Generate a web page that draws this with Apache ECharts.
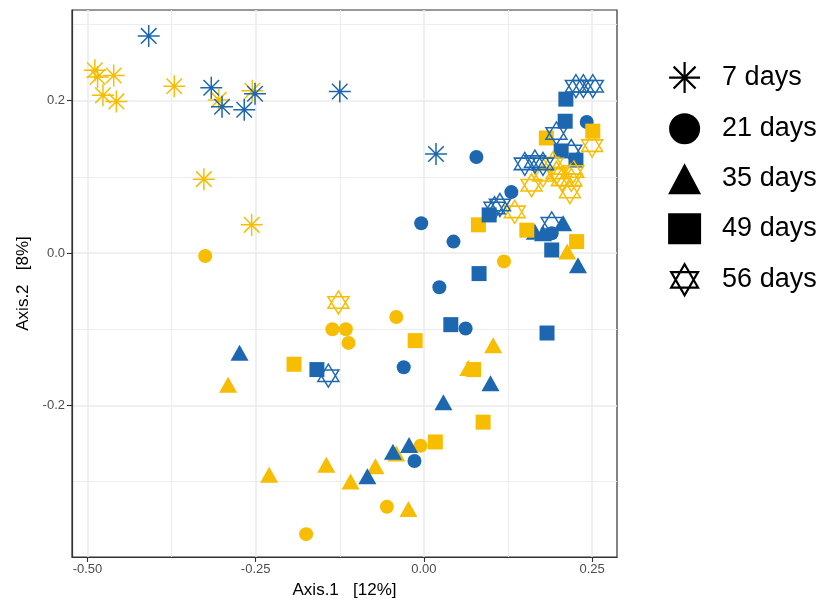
<!DOCTYPE html>
<html>
<head>
<meta charset="utf-8">
<script src="https://cdn.jsdelivr.net/npm/echarts@6/dist/echarts.min.js"></script>
<style>
html, body { margin: 0; padding: 0; background: #fff; }
#chart { width: 824px; height: 604px; }
</style>
</head>
<body>
<div id="chart"></div>
<script>
// day groups (legend)
var dayLabels = ['7 days', '21 days', '35 days', '49 days', '56 days'];
var xTicks = [-0.5, -0.25, 0, 0.25];
var xMinor = [-0.375, -0.125, 0.125];
var yTicks = [-0.2, 0, 0.2];
var yMinor = [-0.3, -0.1, 0.1, 0.3];

// 7 days
var blue7 = [[-0.409, 0.285], [-0.316, 0.217], [-0.300, 0.192], [-0.267, 0.188], [-0.251, 0.209], [-0.125, 0.212], [0.018, 0.130]];
var yellow7 = [[-0.489, 0.240], [-0.485, 0.231], [-0.461, 0.233], [-0.477, 0.207], [-0.457, 0.199], [-0.371, 0.219], [-0.305, 0.201], [-0.255, 0.213], [-0.327, 0.097], [-0.256, 0.037]];
// 21 days
var blue21 = [[0.078, 0.126], [0.130, 0.080], [-0.004, 0.039], [0.044, 0.015], [0.023, -0.045], [0.062, -0.099], [-0.030, -0.150], [-0.014, -0.273], [0.190, 0.026], [0.242, 0.172]];
var yellow21 = [[-0.325, -0.004], [0.119, -0.011], [-0.041, -0.084], [-0.136, -0.100], [-0.116, -0.100], [-0.112, -0.118], [-0.005, -0.253], [-0.055, -0.333], [-0.175, -0.369]];
// 35 days
var blue35 = [[0.165, 0.028], [0.177, 0.026], [0.207, 0.039], [0.229, -0.016], [-0.274, -0.131], [0.099, -0.171], [0.029, -0.196], [-0.022, -0.252], [-0.046, -0.261], [-0.084, -0.293]];
var yellow35 = [[0.213, 0.002], [0.103, -0.121], [0.066, -0.151], [-0.291, -0.173], [-0.041, -0.263], [-0.072, -0.280], [-0.145, -0.278], [-0.109, -0.300], [-0.230, -0.291], [-0.023, -0.336]];
// 49 days
var blue49 = [[0.211, 0.202], [0.210, 0.173], [0.204, 0.134], [0.226, 0.122], [0.097, 0.050], [0.190, 0.004], [0.082, -0.027], [0.040, -0.094], [-0.159, -0.153], [0.183, -0.105]];
var yellow49 = [[0.251, 0.160], [0.182, 0.151], [0.081, 0.037], [0.153, 0.030], [0.227, 0.015], [-0.013, -0.115], [-0.193, -0.146], [0.074, -0.153], [0.088, -0.222], [0.017, -0.248]];
// 56 days
var blue56 = [[0.226, 0.219], [0.237, 0.219], [0.251, 0.219], [0.197, 0.157], [0.219, 0.134], [0.150, 0.117], [0.165, 0.120], [0.177, 0.117], [0.105, 0.059], [0.113, 0.063], [0.190, 0.039], [-0.142, -0.161]];
var yellow56 = [[0.250, 0.141], [0.192, 0.118], [0.160, 0.089], [0.177, 0.102], [0.197, 0.105], [0.205, 0.096], [0.219, 0.096], [0.217, 0.080], [0.222, 0.107], [0.135, 0.054], [-0.127, -0.065]];

var BLUE = '#1d67b0';
var YELLOW = '#f7bd00';
var asterisk = 'path://M0,-10L0,10M-10,0L10,0M-7.07,-7.07L7.07,7.07M-7.07,7.07L7.07,-7.07';
var david = 'path://M0,-10L8.66,5L-8.66,5ZM0,10L8.66,-5L-8.66,-5Z';

var shapes = [
    { sym: asterisk, size: [22, 22], line: true },
    { sym: 'circle', size: 14, line: false },
    { sym: 'triangle', size: [18, 16], line: false },
    { sym: 'rect', size: 15, line: false },
    { sym: david, size: [21, 23], line: true }
];
var blueSets = [blue7, blue21, blue35, blue49, blue56];
var yellowSets = [yellow7, yellow21, yellow35, yellow49, yellow56];

function mkSeries(i, data, col) {
    var s = shapes[i];
    return {
        type: 'scatter',
        name: dayLabels[i],
        data: data,
        symbol: s.sym,
        symbolSize: s.size,
        itemStyle: s.line ?
            { color: 'rgba(0,0,0,0)', borderColor: col, borderWidth: 1.5, opacity: 1 } :
            { color: col, borderWidth: 0, opacity: 1 },
        emphasis: { disabled: true },
        animation: false
    };
}

var series = [];
for (var i = 0; i < 5; i++) {
    series.push(mkSeries(i, yellowSets[i], YELLOW));
    series.push(mkSeries(i, blueSets[i], BLUE));
}

var legendData = dayLabels.map(function(n, i) {
    var s = shapes[i];
    return {
        name: n,
        icon: s.sym,
        itemStyle: s.line ?
            { color: 'rgba(0,0,0,0)', borderColor: '#000', borderWidth: 2.2 } :
            { color: '#000', borderWidth: 0 }
    };
});

var XMIN = -0.523, XMAX = 0.287, YMIN = -0.399, YMAX = 0.319;
var grid = { left: 72, right: 207, top: 10, bottom: 47 };

var chart = echarts.init(document.getElementById('chart'), null, { renderer: 'canvas' });
var option = {
    backgroundColor: '#fff',
    animation: false,
    textStyle: { fontFamily: 'Liberation Sans' },
    grid: Object.assign({ show: true, borderColor: '#333', borderWidth: 1.2, backgroundColor: '#fff' }, grid),
    legend: {
        orient: 'vertical',
        left: 663,
        top: 56,
        itemWidth: 33,
        itemHeight: 31,
        itemGap: 19,
        selectedMode: false,
        data: legendData,
        textStyle: { fontSize: 27, color: '#000', lineHeight: 31, padding: [0, 0, 0, 16], fontFamily: 'Liberation Sans' }
    },
    xAxis: [{
        type: 'value', min: XMIN, max: XMAX,
        name: 'Axis.1   [12%]', nameLocation: 'middle', nameGap: 25,
        nameTextStyle: { fontSize: 17, color: '#000' },
        axisLine: { show: true, onZero: false, lineStyle: { color: '#333', width: 1.2 } },
        axisTick: { show: true, inside: false, length: 5, lineStyle: { color: '#333', width: 1.1 }, customValues: xTicks },
        axisLabel: { customValues: xTicks, margin: 6, fontSize: 13, color: '#4d4d4d', formatter: function(v) { return v.toFixed(2); } },
        splitLine: { show: true, lineStyle: { color: '#ebebeb', width: 1.6 } }
    }, {
        type: 'value', min: XMIN, max: XMAX, position: 'top',
        axisLine: { show: false, onZero: false },
        axisTick: { show: false, customValues: xMinor },
        axisLabel: { show: false, customValues: xMinor },
        splitLine: { show: true, lineStyle: { color: '#ebebeb', width: 0.9 } }
    }],
    yAxis: [{
        type: 'value', min: YMIN, max: YMAX,
        name: 'Axis.2   [8%]', nameLocation: 'middle', nameGap: 40,
        nameTextStyle: { fontSize: 17, color: '#000' },
        axisLine: { show: true, onZero: false, lineStyle: { color: '#333', width: 1.2 } },
        axisTick: { show: true, inside: false, length: 5, lineStyle: { color: '#333', width: 1.1 }, customValues: yTicks },
        axisLabel: { customValues: yTicks, margin: 7, fontSize: 13, color: '#4d4d4d', formatter: function(v) { return v.toFixed(1); } },
        splitLine: { show: true, lineStyle: { color: '#ebebeb', width: 1.6 } }
    }, {
        type: 'value', min: YMIN, max: YMAX, position: 'right',
        axisLine: { show: false, onZero: false },
        axisTick: { show: false, customValues: yMinor },
        axisLabel: { show: false, customValues: yMinor },
        splitLine: { show: true, lineStyle: { color: '#ebebeb', width: 0.9 } }
    }],
    series: series
};
chart.setOption(option);
</script>
</body>
</html>
